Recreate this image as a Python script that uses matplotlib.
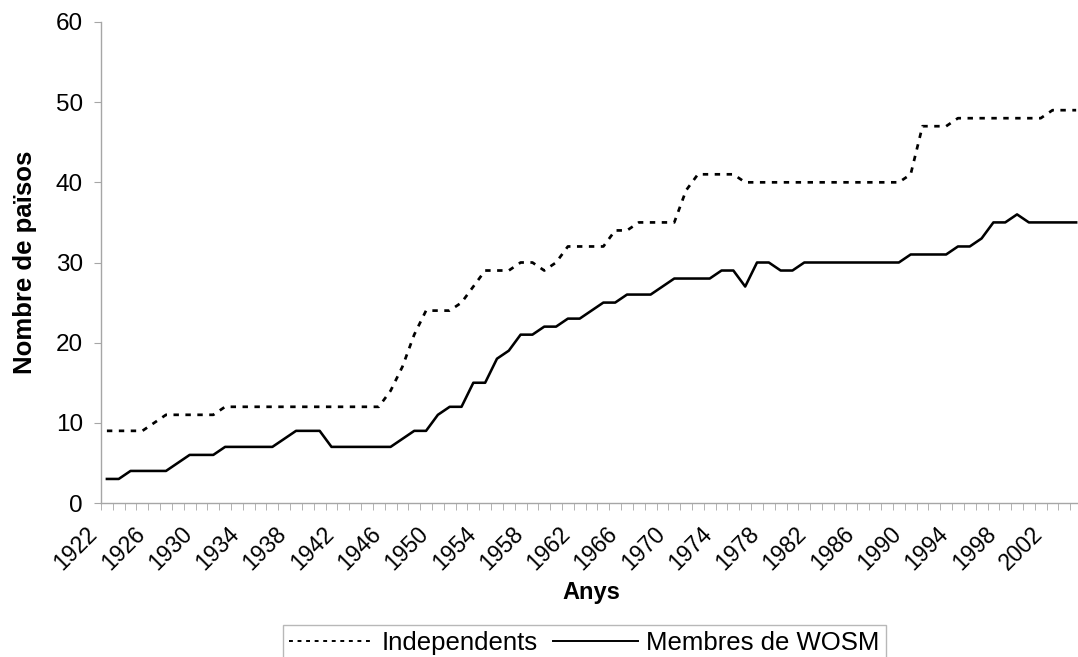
import matplotlib
matplotlib.use('Agg')
import matplotlib.pyplot as plt
import matplotlib.transforms as mtransforms
import numpy as np

plt.rcParams['font.family'] = ['Liberation Sans', 'DejaVu Sans']

# data, one value per year 1922-2004
years = list(range(1922, 2005))
independents = ([9] * 4 + [10] + [11] * 5 + [12] * 14 + [14, 17, 21] + [24] * 3
                + [25, 27] + [29] * 3 + [30, 30, 29, 30] + [32] * 4 + [34, 34]
                + [35] * 4 + [39] + [41] * 4 + [40] * 14 + [41] + [47] * 3
                + [48] * 8 + [49] * 3)
wosm = ([3, 3] + [4] * 4 + [5] + [6] * 3 + [7] * 5 + [8] + [9] * 3 + [7] * 6
        + [8, 9, 9, 11, 12, 12, 15, 15, 18, 19, 21, 21, 22, 22, 23, 23, 24, 25, 25]
        + [26] * 3 + [27] + [28] * 4 + [29, 29, 27, 30, 30, 29, 29] + [30] * 9
        + [31] * 4 + [32, 32, 33, 35, 35, 36] + [35] * 5)
series_names = ['Independents', 'Membres de WOSM']
y_ticks = [0, 10, 20, 30, 40, 50, 60]

W, H = 1078, 657
fig = plt.figure(figsize=(W / 100, H / 100), dpi=100)
# plot area in pixels: left 101, top 22, bottom 503, one category ~11.82 px
n = len(years)
ax = fig.add_axes([101 / W, (H - 503) / H, n * 11.82 / W, (503 - 22) / H])

x = np.arange(n)
ax.plot(x, independents, color='black', lw=1.95, linestyle=(0, (2.0, 2.4)),
        label=series_names[0])
ax.plot(x, wosm, color='black', lw=1.85, label=series_names[1])

grey = '#a6a6a6'
ax.set_xlim(-0.5, n - 0.5)
ax.set_ylim(0, 60)
for s in ['top', 'right']:
    ax.spines[s].set_visible(False)
for s in ['left', 'bottom']:
    ax.spines[s].set_color(grey)
    ax.spines[s].set_linewidth(1.0)

ax.set_yticks(y_ticks)
ax.tick_params(axis='y', length=5, color=grey, labelsize=17.5, pad=8)

ax.set_xticks(x[::4])
ax.set_xticklabels([str(y) for y in years[::4]])
ax.set_xticks(np.arange(-0.5, n, 1), minor=True)
ax.tick_params(axis='x', which='major', length=0, labelsize=16.5, pad=20)
ax.tick_params(axis='x', which='minor', length=5, color=grey)
shift = mtransforms.ScaledTranslation(-13 / 100, 0, fig.dpi_scale_trans)
for lab in ax.get_xticklabels():
    lab.set_rotation(45)
    lab.set_ha('right')
    lab.set_va('center')
    lab.set_rotation_mode('anchor')
    lab.set_transform(lab.get_transform() + shift)

fig.text(25 / W, 1 - 262 / H, 'Nombre de països', rotation=90, ha='center',
         va='center', fontsize=18.5, fontweight='bold')
fig.text(591 / W, 1 - 593 / H, 'Anys', ha='center', va='center',
         fontsize=17, fontweight='bold')

leg = fig.legend(loc='upper left', bbox_to_anchor=(283 / W, 1 - 625 / H),
                 ncol=2, fontsize=18.5, frameon=True, fancybox=False,
                 edgecolor=grey, borderaxespad=0, handlelength=3.3,
                 handletextpad=0.3, columnspacing=0.6, borderpad=0.25)
leg.get_frame().set_linewidth(1.0)
for line in leg.get_lines():
    line.set_linewidth(1.4)

fig.savefig('out.png', dpi=100)
